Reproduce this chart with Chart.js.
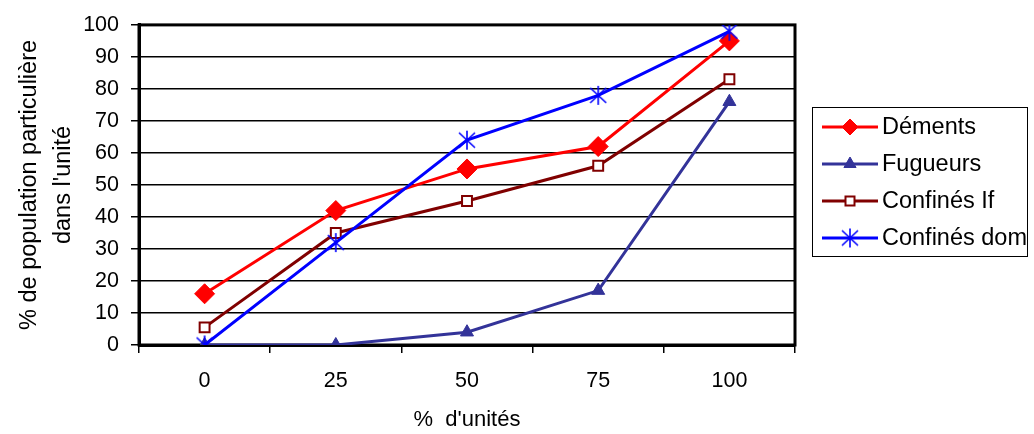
<!DOCTYPE html>
<html>
<head>
<meta charset="utf-8">
<script src="https://cdn.jsdelivr.net/npm/chart.js@4/dist/chart.umd.min.js"></script>
<style>
  html, body { margin: 0; padding: 0; background: #fff; }
  #wrap { width: 1034px; height: 434px; }
</style>
</head>
<body>
<div id="wrap"><canvas id="c" width="1034" height="434"></canvas></div>
<script>
// Categories and series
const categories = ['0', '25', '50', '75', '100'];
const dements = [16, 42, 55, 62, 95];
const fugueurs = [0, 0, 4, 17, 76];
const confinesLf = [5.5, 35, 45, 56, 83];
const confinesDom = [0, 32, 64, 78, 98];
const seriesNames = ['Déments', 'Fugueurs', 'Confinés If', 'Confinés dom'];
const yTicks = [0, 10, 20, 30, 40, 50, 60, 70, 80, 90, 100];

const FONT = "'Liberation Sans', Arial, sans-serif";

// Asterisk marker: vertical stroke plus two diagonals
function makeAsterisk(color, w, h, lw) {
  const cv = document.createElement('canvas');
  cv.width = w + 2; cv.height = h + 2;
  const g = cv.getContext('2d');
  g.strokeStyle = color; g.lineWidth = lw;
  const cx = cv.width / 2, cy = cv.height / 2;
  g.beginPath();
  g.moveTo(cx, cy - h / 2); g.lineTo(cx, cy + h / 2);
  g.moveTo(cx - w / 2, cy - h / 2 + 2); g.lineTo(cx + w / 2, cy + h / 2 - 2);
  g.moveTo(cx + w / 2, cy - h / 2 + 2); g.lineTo(cx - w / 2, cy + h / 2 - 2);
  g.stroke();
  return cv;
}
const asterisk = makeAsterisk('#0000FF', 16, 19, 1.6);

const styles = [
  { color: '#FF0000', point: 'rectRot', radius: 10, fill: '#FF0000', bw: 1 },
  { color: '#333399', point: 'triangle', radius: 7.5, fill: '#333399', bw: 1 },
  { color: '#800000', point: 'rect', radius: 7, fill: '#FFFFFF', bw: 2 },
  { color: '#0000FF', point: asterisk, radius: 9, fill: '#0000FF', bw: 1 }
];
const values = [dements, fugueurs, confinesLf, confinesDom];

const datasets = values.map((v, i) => ({
  label: seriesNames[i],
  data: v,
  borderColor: styles[i].color,
  backgroundColor: styles[i].fill,
  borderWidth: 3,
  pointStyle: styles[i].point,
  pointRadius: styles[i].radius,
  pointBorderColor: styles[i].color,
  pointBackgroundColor: styles[i].fill,
  pointBorderWidth: styles[i].bw,
  tension: 0,
  order: values.length - i
}));

// Thick frame round the plotting area
const framePlugin = {
  id: 'frame',
  beforeDatasetsDraw(chart) {
    const a = chart.chartArea, ctx = chart.ctx;
    ctx.save();
    ctx.strokeStyle = '#000';
    ctx.lineWidth = 3;
    ctx.strokeRect(a.left, a.top, a.right - a.left, a.bottom - a.top);
    ctx.restore();
  }
};

function drawMarker(ctx, s, x, y) {
  ctx.save();
  ctx.fillStyle = s.fill; ctx.strokeStyle = s.color; ctx.lineWidth = s.bw;
  if (s.point === 'rectRot') {
    const r = 8;
    ctx.beginPath();
    ctx.moveTo(x, y - r); ctx.lineTo(x + r, y); ctx.lineTo(x, y + r); ctx.lineTo(x - r, y);
    ctx.closePath(); ctx.fill(); ctx.stroke();
  } else if (s.point === 'triangle') {
    const r = 7;
    ctx.beginPath();
    ctx.moveTo(x, y - r); ctx.lineTo(x + r * 0.87, y + r * 0.5); ctx.lineTo(x - r * 0.87, y + r * 0.5);
    ctx.closePath(); ctx.fill(); ctx.stroke();
  } else if (s.point === 'rect') {
    const h = 4.5;
    ctx.fillRect(x - h, y - h, 2 * h, 2 * h);
    ctx.strokeRect(x - h, y - h, 2 * h, 2 * h);
  } else {
    ctx.drawImage(s.point, x - s.point.width / 2, y - s.point.height / 2);
  }
  ctx.restore();
}

// Boxed legend with line samples and markers
const legendPlugin = {
  id: 'boxLegend',
  afterDraw(chart) {
    const ctx = chart.ctx;
    ctx.save();
    ctx.strokeStyle = '#000'; ctx.lineWidth = 1;
    ctx.strokeRect(812.5, 107.5, 215, 149);
    ctx.font = '23.5px ' + FONT;
    ctx.textBaseline = 'middle';
    ctx.fillStyle = '#000';
    chart.data.datasets.forEach((ds, i) => {
      const y = 127 + i * 37;
      ctx.strokeStyle = ds.borderColor; ctx.lineWidth = 3;
      ctx.beginPath(); ctx.moveTo(822, y); ctx.lineTo(878, y); ctx.stroke();
      drawMarker(ctx, styles[i], 850, y);
      ctx.fillStyle = '#000';
      ctx.fillText(ds.label, 882, y + 1);
    });
    ctx.restore();
  }
};

new Chart(document.getElementById('c'), {
  type: 'line',
  data: { labels: categories, datasets },
  options: {
    responsive: false,
    animation: false,
    layout: { padding: { top: 23, right: 239, left: 0, bottom: 0 } },
    plugins: { legend: { display: false }, tooltip: { enabled: false } },
    scales: {
      x: {
        type: 'category',
        offset: true,
        border: { display: true, color: '#000', width: 3 },
        grid: { display: true, offset: true, drawOnChartArea: false, drawTicks: true, tickLength: 8, color: '#000', lineWidth: 1.5 },
        ticks: { color: '#000', font: { family: FONT, size: 21.5 }, padding: 15, maxRotation: 0 },
        title: { display: true, text: '%  d\'unités', color: '#000', font: { family: FONT, size: 22 }, padding: { top: 0, bottom: 1 } },
        afterFit(scale) { scale.height = 89; }
      },
      y: {
        min: 0, max: 100,
        afterBuildTicks(scale) { scale.ticks = yTicks.map(v => ({ value: v })); },
        border: { display: true, color: '#000', width: 3 },
        grid: { color: '#000', lineWidth: 1.5, drawTicks: true, tickLength: 8 },
        ticks: { color: '#000', font: { family: FONT, size: 21.5 }, padding: 12 },
        title: { display: true, text: ['% de population particulière', 'dans l\'unité'], color: '#000', font: { family: FONT, size: 23.5, lineHeight: 1.45 }, padding: { top: 12, bottom: 0 } },
        afterFit(scale) { scale.width = 139; }
      }
    }
  },
  plugins: [framePlugin, legendPlugin]
});
</script>
</body>
</html>
